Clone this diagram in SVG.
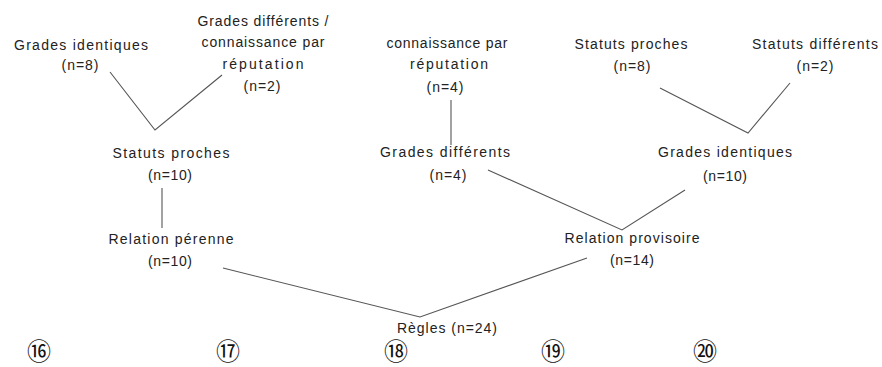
<svg xmlns="http://www.w3.org/2000/svg" width="882" height="367" viewBox="0 0 882 367">
<style>
  .t { font-family: "Liberation Sans", Arial, sans-serif; font-size: 14px; fill: #222; text-anchor: middle; }
  .num { font-family: "DejaVu Sans", "Noto Sans CJK SC", sans-serif; font-size: 24px; fill: #111; text-anchor: middle; }
  .c { fill: none; stroke: #555; stroke-width: 1.1; }
</style>
<rect width="882" height="367" fill="#fff"/>
<g id="connectors">
  <polyline class="c" points="110,72 155,130 222,75"/>
  <line class="c" x1="162" y1="188" x2="162" y2="228"/>
  <polyline class="c" points="223,268 420,317 587,258"/>
  <line class="c" x1="451" y1="100" x2="451" y2="145"/>
  <polyline class="c" points="488,170 622,230 685,190"/>
  <polyline class="c" points="660,88 748,133 790,83"/>
</g>
<g id="n-grades-identiques-1">
  <text class="t" x="81" y="50" textLength="134" lengthAdjust="spacing">Grades identiques</text>
  <text class="t" x="80" y="70" textLength="37" lengthAdjust="spacing">(n=8)</text>
</g>
<g id="n-grades-differents-1">
  <text class="t" x="263" y="26" textLength="131" lengthAdjust="spacing">Grades différents /</text>
  <text class="t" x="263" y="47" textLength="123" lengthAdjust="spacing">connaissance par</text>
  <text class="t" x="263" y="69" textLength="81" lengthAdjust="spacing">réputation</text>
  <text class="t" x="262" y="91" textLength="37" lengthAdjust="spacing">(n=2)</text>
</g>
<g id="n-statuts-proches-1">
  <text class="t" x="171" y="158" textLength="117" lengthAdjust="spacing">Statuts proches</text>
  <text class="t" x="170" y="180" textLength="44" lengthAdjust="spacing">(n=10)</text>
</g>
<g id="n-relation-perenne">
  <text class="t" x="171" y="244" textLength="125" lengthAdjust="spacing">Relation pérenne</text>
  <text class="t" x="170" y="266" textLength="44" lengthAdjust="spacing">(n=10)</text>
</g>
<g id="n-connaissance">
  <text class="t" x="447" y="48" textLength="121" lengthAdjust="spacing">connaissance par</text>
  <text class="t" x="449" y="69" textLength="78" lengthAdjust="spacing">réputation</text>
  <text class="t" x="445" y="92" textLength="37" lengthAdjust="spacing">(n=4)</text>
</g>
<g id="n-grades-differents-2">
  <text class="t" x="445" y="157" textLength="130" lengthAdjust="spacing">Grades différents</text>
  <text class="t" x="448" y="180" textLength="37" lengthAdjust="spacing">(n=4)</text>
</g>
<g id="n-relation-provisoire">
  <text class="t" x="632" y="243" textLength="135" lengthAdjust="spacing">Relation provisoire</text>
  <text class="t" x="632" y="265" textLength="44" lengthAdjust="spacing">(n=14)</text>
</g>
<g id="n-regles">
  <text class="t" x="447" y="333" textLength="100" lengthAdjust="spacing">Règles (n=24)</text>
</g>
<g id="n-statuts-proches-2">
  <text class="t" x="631" y="49" textLength="113" lengthAdjust="spacing">Statuts proches</text>
  <text class="t" x="632" y="71" textLength="37" lengthAdjust="spacing">(n=8)</text>
</g>
<g id="n-statuts-differents">
  <text class="t" x="815" y="49" textLength="126" lengthAdjust="spacing">Statuts différents</text>
  <text class="t" x="815" y="71" textLength="37" lengthAdjust="spacing">(n=2)</text>
</g>
<g id="n-grades-identiques-2">
  <text class="t" x="725" y="157" textLength="134" lengthAdjust="spacing">Grades identiques</text>
  <text class="t" x="725" y="181" textLength="44" lengthAdjust="spacing">(n=10)</text>
</g>
<g id="numbers">
  <text class="num" x="39" y="360">⑯</text>
  <text class="num" x="228" y="360">⑰</text>
  <text class="num" x="396" y="360">⑱</text>
  <text class="num" x="553" y="360">⑲</text>
  <text class="num" x="705" y="360">⑳</text>
</g>
</svg>
